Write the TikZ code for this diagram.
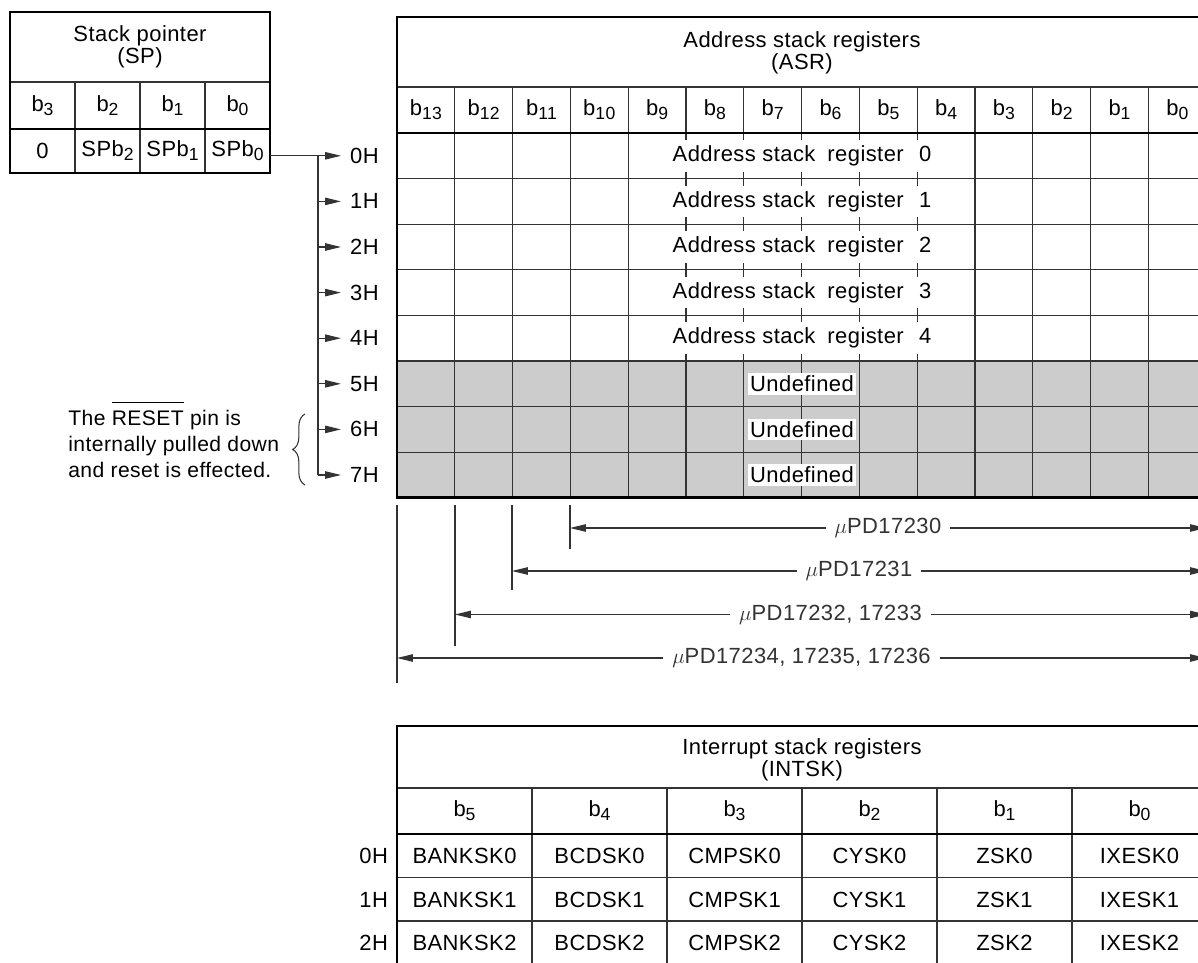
\documentclass[tikz,border=0pt]{standalone}
\usepackage{fontspec}
\setmainfont{Liberation Sans}[LetterSpace=2]
\usetikzlibrary{arrows.meta, decorations.pathreplacing, positioning}

% small lowered bit index
\newcommand\bsub[1]{\raisebox{-0.35ex}{\fontsize{10}{10}\selectfont #1}}
% bar over a signal name
\newcommand\ovl[1]{\vbox{\hrule height 0.6pt\kern4.5pt\hbox{#1}}}

\begin{document}
\begin{tikzpicture}[x=0.02cm, y=-0.02cm,
  font=\fontsize{12.5}{12.5}\selectfont,
  gridline/.style={line width=0.6pt, black!80},
  frame/.style={line width=1.6pt, black},
  ptr/.style={gridline, -{Triangle[length=9pt, width=4.2pt]}},
  dim/.style={gridline, {Triangle[length=9pt, width=4.2pt]}-{Triangle[length=9pt, width=4.2pt]}},
  lbl/.style={inner sep=1.5pt, fill=white}
]
  \useasboundingbox (0,0) rectangle (1198,963);
  \clip (0,0) rectangle (1198,963);

  % stack pointer
  \draw[gridline] (10,82) -- (270,82);
  \foreach \x in {75,140,205}
    \draw[gridline] (\x,82) -- (\x,173);
  \draw[frame] (10,129) -- (270,129);
  \draw[frame] (10,12) rectangle (270,173);
  \node[align=center] (sptitle) at (140,47) {Stack pointer\\(SP)};
  \foreach \b [count=\i from 0] in {3,2,1,0}
    \node (spbit\b) at (42.5+65*\i,106) {b\bsub{\b}};
  \node (spv3) at (42.5,151) {0};
  \node (spv2) at (107.5,151) {SPb\bsub{2}};
  \node (spv1) at (172.5,151) {SPb\bsub{1}};
  \node (spv0) at (237.5,151) {SPb\bsub{0}};

  % address stack registers
  \fill[black!20] (397,361) rectangle (1210,497.8);
  \draw[gridline] (397,87) -- (1210,87);
  \foreach \r in {1,...,7}
    \draw[gridline] (397,133+45.6*\r) -- (1210,133+45.6*\r);
  \foreach \i in {1,...,13}
    \draw[gridline] (397+57.8*\i,87) -- (397+57.8*\i,133);
  \foreach \i in {1,2,3,4,10,11,12,13}
    \draw[gridline] (397+57.8*\i,133) -- (397+57.8*\i,497.8);
  \foreach \i in {5,...,9}{
    \draw[gridline] (397+57.8*\i,361) -- (397+57.8*\i,497.8);
    \foreach \r in {0,...,4}{
      \draw[gridline] (397+57.8*\i,133+45.6*\r) -- ++(0,7);
      \draw[gridline] (397+57.8*\i,178.6+45.6*\r) -- ++(0,-7);
    }
  }
  \draw[frame] (397,133) -- (1210,133);
  \draw[frame] (1210,17) -- (397,17) -- (397,497.8) -- (1210,497.8);
  \node[align=center] (asrtitle) at (802,53) {Address stack registers\\(ASR)};
  \foreach \b [count=\i from 0] in {13,12,...,0}
    \node (asrbit\b) at (425.9+57.8*\i,110) {b\bsub{\b}};
  \foreach \r in {0,...,4}
    \node (asr\r) at (802,155.8+45.6*\r) {Address stack\hspace{0.25em} register\hspace{0.4em} \r};
  \foreach \r in {5,6,7}
    \node[lbl] (asr\r) at (802,155.8+45.6*\r) {Undefined};

  % stack pointer value selects a row
  \foreach \r in {0,...,7}{
    \node[anchor=west, inner sep=1pt] (h\r) at (348,155.8+45.6*\r) {\r H};
    \coordinate (bus\r) at (318,155.8+45.6*\r);
  }
  \coordinate (spout) at (270,155.8);
  \draw[ptr, shorten >=4pt] (spout) -- (h0.west);
  \draw[gridline] (bus0) -- (bus7);
  \foreach \r in {1,...,7}
    \draw[ptr, shorten >=4pt] (bus\r) -- (h\r.west);

  % note on rows 6H and 7H
  \draw[gridline, decorate, decoration={brace, amplitude=7pt}] (305,485) -- (305,414);
  \node[align=left, anchor=west, inner sep=0pt, font=\fontsize{12}{14.8}\selectfont] (note) at (68,440)
    {The \ovl{RESET} pin is\\internally pulled down\\and reset is effected.};

  % implemented width per device
  \foreach \x/\y in {397/683, 455/646, 512/590, 570/549}
    \draw[gridline] (\x,505) -- (\x,\y);
  \coordinate (d0l) at (570,528);   \coordinate (d0r) at (1206,528);
  \coordinate (d1l) at (512,571);   \coordinate (d1r) at (1206,571);
  \coordinate (d2l) at (455,614.5); \coordinate (d2r) at (1206,614.5);
  \coordinate (d3l) at (397,658);   \coordinate (d3r) at (1206,658);
  \draw[dim] (d0l) -- node[lbl, inner xsep=5pt] {$\mu$PD17230} (d0r);
  \draw[dim] (d1l) -- node[lbl, inner xsep=5pt] {$\mu$PD17231} (d1r);
  \draw[dim] (d2l) -- node[lbl, inner xsep=5pt] {$\mu$PD17232, 17233} (d2r);
  \draw[dim] (d3l) -- node[lbl, inner xsep=5pt] {$\mu$PD17234, 17235, 17236} (d3r);

  % interrupt stack registers
  \draw[gridline] (397,788) -- (1215,788);
  \foreach \y in {877.5,921}
    \draw[gridline] (397,\y) -- (1215,\y);
  \foreach \i in {1,...,5}
    \draw[gridline] (397+135*\i,788) -- (397+135*\i,970);
  \draw[frame] (397,834) -- (1215,834);
  \draw[frame] (1215,726) -- (397,726) -- (397,970);
  \node[align=center] (intsktitle) at (802,760) {Interrupt stack registers\\(INTSK)};
  \foreach \b [count=\i from 0] in {5,4,...,0}
    \node (intbit\b) at (464.5+135*\i,811) {b\bsub{\b}};
  \foreach \r/\y in {0/856, 1/899.5, 2/943}{
    \node[anchor=east, inner sep=1pt] (ih\r) at (390,\y) {\r H};
    \foreach \n [count=\i from 0] in {BANKSK,BCDSK,CMPSK,CYSK,ZSK,IXESK}
      \node (\n\r) at (464.5+135*\i,\y) {\n\r};
  }
\end{tikzpicture}
\end{document}
